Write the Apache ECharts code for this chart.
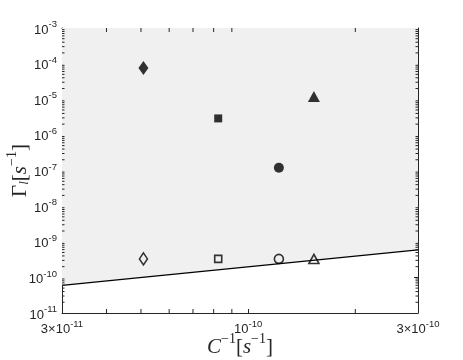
<!DOCTYPE html>
<html>
<head>
<meta charset="utf-8">
<script src="https://cdn.jsdelivr.net/npm/echarts@6/dist/echarts.min.js"></script>
<style>
  html, body { margin: 0; padding: 0; background: #fff; }
  #chart { width: 463px; height: 360px; }
</style>
</head>
<body>
<div id="chart"></div>
<script>
// axis ranges
const xRange = [3e-11, 3e-10]
const yRange = [1e-11, 1e-3]

// boundary line (shaded region lies above it)
const boundaryX = [3e-11, 3e-10]
const boundaryY = [6e-11, 5.9e-10]

// markers
const markerX = [5.08e-11, 8.24e-11, 1.22e-10, 1.53e-10]
const filledY = [7.5e-5, 2.9e-6, 1.2e-7, 1.2e-5]
const openY = [3.3e-10, 3.3e-10, 3.3e-10, 3.3e-10]
const markerShapes = ['diamond', 'rect', 'circle', 'triangle']
const filledSizes = [[10, 14], [8, 8], [10, 10], [12, 11]]
const openSizes = [[8, 12], [7, 7], [9, 9], [10, 9]]

// extra (unlabelled) ticks
const xMinorTicks = [4e-11, 5e-11, 6e-11, 7e-11, 8e-11, 9e-11, 2e-10]
const yMinorTicks = []
for (let e = -11; e < -3; e++) {
  for (let k = 2; k <= 9; k++) yMinorTicks.push(k * Math.pow(10, e))
}

const axisColor = '#262626'
const tickFont = 'Liberation Sans, Arial, sans-serif'
const serif = 'Liberation Serif, DejaVu Serif, serif'

function powLabel(v) {
  const lg = Math.log10(v)
  const exp = Math.floor(lg + 1e-9)
  const mant = Math.round(v / Math.pow(10, exp))
  const head = mant === 1 ? '' : mant + '×'
  return '{b|' + head + '10}{s|' + exp + '}'
}

const tickRich = {
  b: { fontFamily: tickFont, fontSize: 13, color: axisColor, lineHeight: 17, verticalAlign: 'bottom' },
  s: { fontFamily: tickFont, fontSize: 9.5, color: axisColor, lineHeight: 12, verticalAlign: 'top' }
}

const nameRich = {
  m: { fontFamily: serif, fontSize: 21, color: axisColor, lineHeight: 26, verticalAlign: 'bottom' },
  i: { fontFamily: serif, fontStyle: 'italic', fontSize: 21, color: axisColor, lineHeight: 26, verticalAlign: 'bottom' },
  sup: { fontFamily: serif, fontSize: 14, color: axisColor, lineHeight: 17, verticalAlign: 'top' },
  sub: { fontFamily: serif, fontStyle: 'italic', fontSize: 13, color: axisColor, lineHeight: 15, verticalAlign: 'bottom' }
}

function baseAxis(extra) {
  return Object.assign({
    type: 'log',
    logBase: 10,
    axisLine: { show: true, lineStyle: { color: axisColor, width: 1 } },
    axisTick: { show: true, inside: true, length: 4, lineStyle: { color: axisColor } },
    minorTick: { show: false },
    splitLine: { show: false }
  }, extra)
}

let myChart = echarts.init(document.getElementById('chart'))

const minorTickData = []
xMinorTicks.forEach(v => minorTickData.push([v, 'x']))
yMinorTicks.forEach(v => minorTickData.push([v, 'y']))

myChart.setOption({
  animation: false,
  backgroundColor: '#ffffff',
  grid: { left: 62, right: 45, top: 28, bottom: 47, outerBoundsMode: 'none', containLabel: false },
  xAxis: [
    baseAxis({
      min: xRange[0],
      max: xRange[1],
      position: 'bottom',
      name: '{i|C}{sup|−1}{m|[}{i|s}{sup|−1}{m|]}',
      nameLocation: 'middle',
      nameGap: 19,
      nameMoveOverlap: false,
      nameTextStyle: { rich: nameRich },
      axisLabel: {
        margin: 6,
        formatter: v => powLabel(v),
        rich: tickRich,
        showMinLabel: true,
        showMaxLabel: true
      }
    }),
    baseAxis({
      min: xRange[0],
      max: xRange[1],
      position: 'top',
      axisLabel: { show: false }
    })
  ],
  yAxis: [
    baseAxis({
      min: yRange[0],
      max: yRange[1],
      position: 'left',
      name: '{m|Γ}{sub|l}{m|[}{i|s}{sup|−1}{m|]}',
      nameLocation: 'middle',
      nameRotate: 90,
      nameGap: 31,
      nameMoveOverlap: false,
      nameTextStyle: { rich: nameRich },
      axisLabel: {
        margin: 5,
        formatter: v => powLabel(v),
        rich: tickRich
      }
    }),
    baseAxis({
      min: yRange[0],
      max: yRange[1],
      position: 'right',
      axisLabel: { show: false }
    })
  ],
  series: [
    {
      // shaded region above the boundary line
      type: 'custom',
      z: 1,
      silent: true,
      data: [[boundaryX[0], boundaryY[0]]],
      renderItem: (params, api) => {
        const pts = [
          api.coord([boundaryX[0], boundaryY[0]]),
          api.coord([boundaryX[1], boundaryY[1]]),
          api.coord([boundaryX[1], yRange[1]]),
          api.coord([boundaryX[0], yRange[1]])
        ]
        return { type: 'polygon', shape: { points: pts }, style: { fill: '#f0f0f0' } }
      }
    },
    {
      // minor ticks on all four sides
      type: 'custom',
      z: 5,
      silent: true,
      data: minorTickData,
      renderItem: (params, api) => {
        const v = api.value(0)
        const kind = minorTickData[params.dataIndex][1]
        const st = { stroke: axisColor, lineWidth: 1 }
        if (kind === 'x') {
          const b = api.coord([v, yRange[0]])
          const t = api.coord([v, yRange[1]])
          return {
            type: 'group',
            children: [
              { type: 'line', shape: { x1: b[0], y1: b[1], x2: b[0], y2: b[1] - 4 }, style: st },
              { type: 'line', shape: { x1: t[0], y1: t[1], x2: t[0], y2: t[1] + 4 }, style: st }
            ]
          }
        }
        const l = api.coord([xRange[0], v])
        const r = api.coord([xRange[1], v])
        return {
          type: 'group',
          children: [
            { type: 'line', shape: { x1: l[0], y1: l[1], x2: l[0] + 2.5, y2: l[1] }, style: st },
            { type: 'line', shape: { x1: r[0], y1: r[1], x2: r[0] - 2.5, y2: r[1] }, style: st }
          ]
        }
      }
    },
    {
      type: 'line',
      z: 3,
      data: boundaryX.map((x, i) => [x, boundaryY[i]]),
      symbol: 'none',
      lineStyle: { color: '#000', width: 1.3 }
    },
    {
      type: 'scatter',
      z: 4,
      data: markerX.map((x, i) => ({
        value: [x, filledY[i]],
        symbol: markerShapes[i],
        symbolSize: filledSizes[i]
      })),
      itemStyle: { color: '#000' }
    },
    {
      type: 'scatter',
      z: 4,
      data: markerX.map((x, i) => ({
        value: [x, openY[i]],
        symbol: markerShapes[i],
        symbolSize: openSizes[i]
      })),
      itemStyle: { color: 'rgba(0,0,0,0)', borderColor: '#000', borderWidth: 1.6 }
    }
  ]
})
</script>
</body>
</html>
